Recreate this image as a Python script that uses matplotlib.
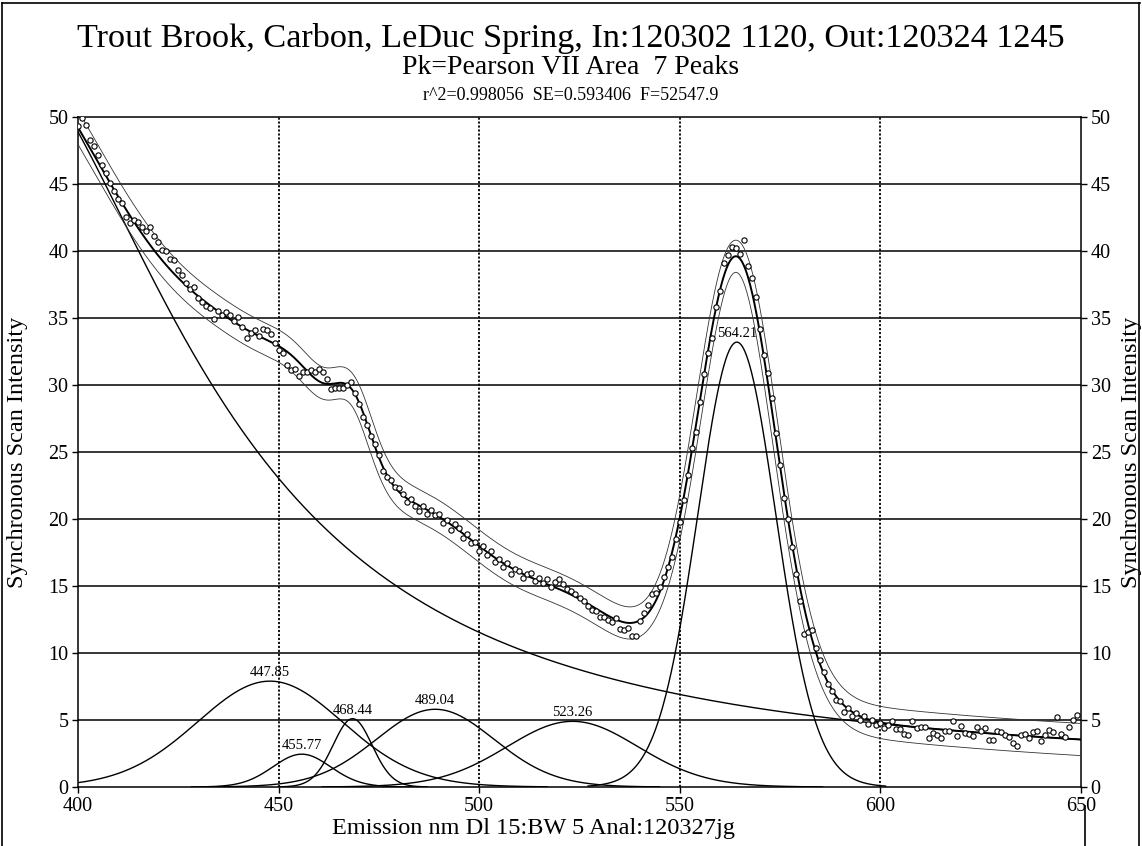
import numpy as np
import matplotlib
matplotlib.use("Agg")
import matplotlib.pyplot as plt
from matplotlib.lines import Line2D

# ---------------- data ----------------
wavelength = np.arange(400, 650)          # observed sample positions (nm)
observed = [
    49.3, 49.9, 49.4, 48.3, 47.8, 47.2, 46.45, 45.8, 45.1, 44.5,
    43.9, 43.6, 42.5, 42.1, 42.3, 42.2, 41.8, 41.5, 41.8, 41.1,
    40.7, 40.05, 40.0, 39.4, 39.3, 38.6, 38.2, 37.6, 37.2, 37.3,
    36.5, 36.2, 35.9, 35.75, 34.9, 35.55, 35.25, 35.45, 35.2, 34.75,
    35.05, 34.3, 33.5, 33.9, 34.1, 33.65, 34.2, 34.1, 33.8, 33.15,
    32.6, 32.4, 31.5, 31.15, 31.2, 30.65, 30.95, 31.0, 31.15, 30.95,
    31.2, 31.0, 30.45, 29.7, 29.75, 29.8, 29.75, 30.0, 30.2, 29.4,
    28.6, 27.6, 27.0, 26.2, 25.6, 24.8, 23.6, 23.1, 22.9, 22.4,
    22.3, 21.9, 21.3, 21.5, 21.0, 20.6, 21.0, 20.4, 20.7, 20.3,
    20.4, 19.7, 19.9, 19.2, 19.6, 19.3, 18.6, 18.9, 18.2, 18.3,
    17.6, 18.0, 17.3, 17.6, 16.8, 17.0, 16.4, 16.7, 15.9, 16.3,
    16.1, 15.6, 15.9, 16.0, 15.4, 15.6, 15.2, 15.5, 14.9, 15.3,
    15.5, 15.15, 14.8, 14.6, 14.4, 14.1, 13.9, 13.5, 13.2, 13.1,
    12.7, 12.65, 12.5, 12.35, 12.6, 11.8, 11.75, 11.85, 11.3, 11.3,
    12.4, 13.0, 13.6, 14.4, 14.45, 14.95, 15.7, 16.4, 17.2, 18.5,
    19.8, 21.4, 23.3, 25.3, 26.5, 28.7, 30.8, 32.4, 33.5, 35.8,
    37.0, 39.1, 39.7, 40.3, 40.2, 39.8, 40.8, 38.9, 37.95, 36.6,
    34.2, 32.25, 30.9, 29.0, 26.4, 24.0, 21.6, 20.0, 17.9, 15.9,
    13.9, 11.4, 11.6, 11.7, 10.4, 9.5, 8.6, 7.7, 7.2, 6.5,
    6.4, 5.6, 5.9, 5.3, 5.5, 5.0, 5.3, 4.7, 5.0, 4.6,
    4.8, 4.4, 4.6, 4.9, 4.3, 4.3, 3.95, 3.9, 4.9, 4.4,
    4.5, 4.5, 3.65, 4.05, 3.85, 3.65, 4.2, 4.15, 4.9, 3.8,
    4.55, 4.0, 3.95, 3.8, 4.45, 4.15, 4.4, 3.5, 3.5, 4.2,
    4.1, 3.9, 3.7, 3.25, 3.05, 3.9, 3.95, 3.65, 4.1, 4.2,
    3.4, 3.9, 4.25, 4.1, 5.2, 3.95, 3.75, 4.5, 5.0, 5.4,
]

# fitted Pearson VII peaks (labelled ones)
peak_centers = [447.85, 455.77, 468.44, 489.04, 523.26, 564.21]
peak_heights = [7.9, 2.45, 5.1, 5.8, 4.9, 33.2]
peak_hwhm = [21.6, 8.6, 5.8, 17.5, 19.5, 11.6]
peak_shape = [20.0, 20.0, 20.0, 20.0, 20.0, 20.0]
peak_labels = ["447.85", "455.77", "468.44", "489.04", "523.26", "564.21"]

# scatter peak centred below the scan range (7th peak) + constant baseline
scatter_center = 376.0
scatter_height = 55.56
scatter_hwhm = 60.0
scatter_shape = 1.0
baseline_const = 1.0

title = "Trout Brook, Carbon, LeDuc Spring, In:120302 1120, Out:120324 1245"
subtitle = "Pk=Pearson VII Area  7 Peaks"
stats = "r^2=0.998056  SE=0.593406  F=52547.9"
xlabel = "Emission nm Dl 15:BW 5 Anal:120327jg"
ylabel = "Synchronous Scan Intensity"
x_ticks = [400, 450, 500, 550, 600, 650]
y_ticks = [0, 5, 10, 15, 20, 25, 30, 35, 40, 45, 50]


def pearson7(x, c, h, w, m):
    k = 2.0 ** (1.0 / m) - 1.0
    return h / (1.0 + ((x - c) / w) ** 2 * k) ** m


plt.rcParams['font.family'] = ['Liberation Serif', 'DejaVu Serif']

fig = plt.figure(figsize=(11.42, 8.46), dpi=100)
W, H = 1142, 846
ax = fig.add_axes([78 / W, 1 - 787 / H, (1081 - 78) / W, (787 - 117) / H])

xx = np.linspace(400, 650, 2501)
scatter_curve = baseline_const + pearson7(xx, scatter_center, scatter_height,
                                          scatter_hwhm, scatter_shape)
fit = scatter_curve.copy()
for c, h, w, m in zip(peak_centers, peak_heights, peak_hwhm, peak_shape):
    fit += pearson7(xx, c, h, w, m)

slope = np.gradient(fit, xx)
half = np.sqrt(1.2 ** 2 + (0.8 * slope) ** 2)

# grid
for yv in y_ticks[1:-1]:
    ax.axhline(yv, color='black', lw=1.1, zorder=1)
for xv in x_ticks[1:-1]:
    ax.axvline(xv, color='black', lw=1.3, ls=(0, (1.2, 1.0)), zorder=1)

# components
for c, h, w, m, lab in zip(peak_centers, peak_heights, peak_hwhm, peak_shape, peak_labels):
    sel = (xx >= c - 3.2 * w) & (xx <= c + 3.2 * w)
    ax.plot(xx[sel], pearson7(xx[sel], c, h, w, m), color='black', lw=1.0, zorder=3)
    ax.text(c, h + 0.15, lab, ha='center', va='bottom', fontsize=10.5, zorder=5)

ax.plot(xx, scatter_curve, color='black', lw=1.0, zorder=3)

# bands and fit
ax.plot(xx, fit + half, color='#333333', lw=0.6, zorder=3)
ax.plot(xx, fit - half, color='#333333', lw=0.6, zorder=3)
ax.plot(xx, fit, color='black', lw=1.4, zorder=4)

ax.plot(wavelength, observed, ls='none', marker='o', ms=3.8, mfc='white',
        mec='black', mew=0.8, zorder=4.5)

ax.set_xlim(400, 650)
ax.set_ylim(0, 50)
ax.set_xticks(x_ticks)
ax.set_yticks(y_ticks)
ax.tick_params(axis='both', direction='out', length=4, width=1, labelsize=14.5,
               colors='black', pad=3)
ax.tick_params(axis='y', right=True, labelright=True)
for s in ax.spines.values():
    s.set_linewidth(1.1)

fig.text(0.5, 1 - 38 / H, title, ha='center', va='center', fontsize=24.7)
fig.text(0.5, 1 - 68 / H, subtitle, ha='center', va='center', fontsize=20)
fig.text(0.5, 1 - 96 / H, stats, ha='center', va='center', fontsize=13)
fig.text(534 / W, 1 - 828 / H, xlabel, ha='center', va='center', fontsize=17.5)
fig.text(18 / W, 1 - 452 / H, ylabel, ha='center', va='center', rotation=90, fontsize=17.5)
fig.text(1131 / W, 1 - 452 / H, ylabel, ha='center', va='center', rotation=90, fontsize=17.5)

# figure frame (top, left, right) and short bottom-right rule
for xs, ys in [((2, 1140), (843, 843)), ((2, 2), (0, 843)), ((1139, 1139), (0, 843)),
               ((1085, 1085), (0, 40))]:
    fig.add_artist(Line2D([v / W for v in xs], [v / H for v in ys],
                          transform=fig.transFigure, color='black', lw=1.2))

fig.savefig("out.png", dpi=100)
